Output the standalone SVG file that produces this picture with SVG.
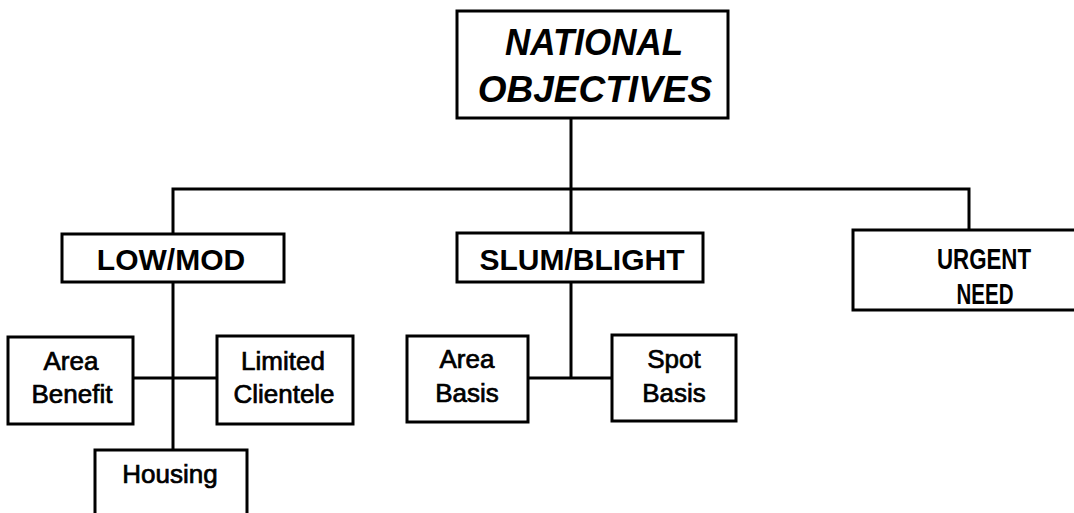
<svg xmlns="http://www.w3.org/2000/svg" width="1074" height="513" viewBox="0 0 1074 513">
<style>
.box{fill:#fff;stroke:#000;stroke-width:3}
.ln{fill:none;stroke:#000;stroke-width:3}
.t{font-family:"Liberation Sans",Arial,sans-serif;fill:#000;text-anchor:middle}
.big{font-size:37px;font-weight:bold;font-style:italic}
.mid{font-size:30px;font-weight:bold}
.sm{font-size:26px;stroke:#000;stroke-width:0.7}
</style>
<rect width="1074" height="513" fill="#fff"/>
<g id="connectors">
<path class="ln" d="M571,118 V233"/>
<path class="ln" d="M173,234 V189 H969 V230"/>
<path class="ln" d="M173,282 V450"/>
<path class="ln" d="M133,378 H217"/>
<path class="ln" d="M571,282 V378"/>
<path class="ln" d="M528,378 H612"/>
</g>
<g id="national">
<rect class="box" x="457" y="11" width="271" height="107"/>
<text class="t big" x="594" y="55" textLength="178" lengthAdjust="spacingAndGlyphs">NATIONAL</text>
<text class="t big" x="595" y="102">OBJECTIVES</text>
</g>
<g id="lowmod">
<rect class="box" x="62" y="234" width="222" height="48"/>
<text class="t mid" x="171" y="270">LOW/MOD</text>
</g>
<g id="slum">
<rect class="box" x="457" y="233" width="246" height="49"/>
<text class="t mid" x="582" y="270">SLUM/BLIGHT</text>
</g>
<g id="urgent">
<path class="box" d="M1080,230 H853 V310 H1080"/>
<text class="t mid" x="984" y="269" textLength="94" lengthAdjust="spacingAndGlyphs">URGENT</text>
<text class="t mid" x="985" y="304" textLength="57" lengthAdjust="spacingAndGlyphs">NEED</text>
</g>
<g id="areabenefit">
<rect class="box" x="8" y="337" width="125" height="87"/>
<text class="t sm" x="71" y="370">Area</text>
<text class="t sm" x="72" y="403">Benefit</text>
</g>
<g id="limited">
<rect class="box" x="217" y="336" width="136" height="88"/>
<text class="t sm" x="283" y="370">Limited</text>
<text class="t sm" x="284" y="403">Clientele</text>
</g>
<g id="housing">
<path class="box" d="M95,520 V450 H247 V520"/>
<text class="t sm" x="170" y="483">Housing</text>
</g>
<g id="areabasis">
<rect class="box" x="407" y="336" width="121" height="86"/>
<text class="t sm" x="467" y="368">Area</text>
<text class="t sm" x="467" y="402">Basis</text>
</g>
<g id="spotbasis">
<rect class="box" x="612" y="335" width="124" height="86"/>
<text class="t sm" x="674" y="368">Spot</text>
<text class="t sm" x="674" y="402">Basis</text>
</g>
</svg>
